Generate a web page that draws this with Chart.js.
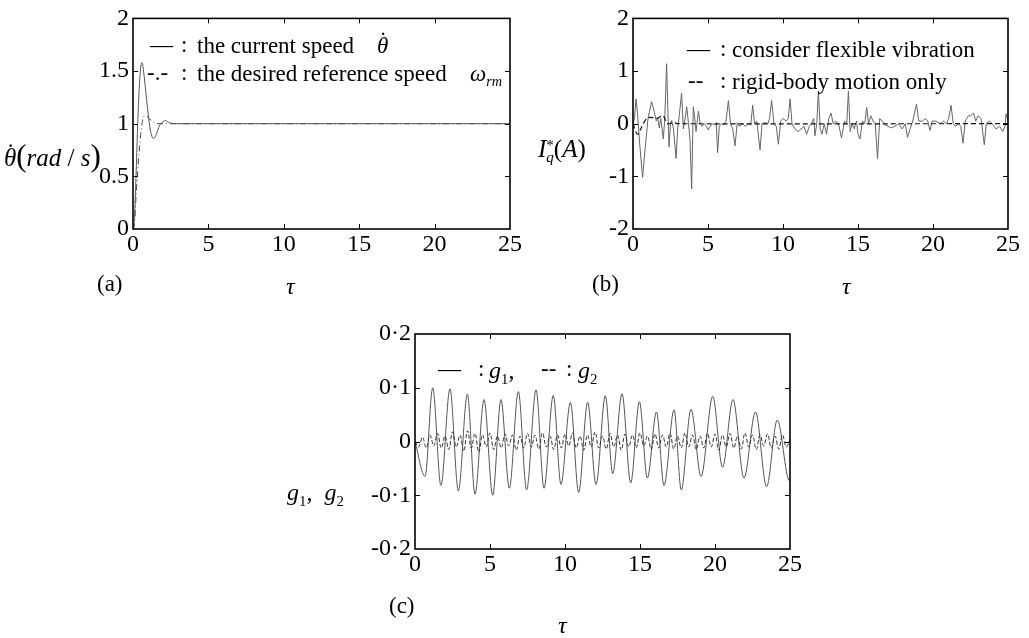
<!DOCTYPE html>
<html><head><meta charset="utf-8">
<script src="https://cdn.jsdelivr.net/npm/chart.js@4.4.0/dist/chart.umd.min.js"></script>
<style>
html,body{margin:0;padding:0;background:#fff;width:1029px;height:638px;overflow:hidden;}
canvas{position:absolute;left:0;top:0;}
.t{position:absolute;font-family:'Liberation Serif','Times New Roman',serif;color:#000;white-space:nowrap;line-height:1;transform:translateY(-50%);}
.i{font-style:italic;}
sub,sup{font-size:62%;line-height:0;}
.dt{position:relative;display:inline-block;font-style:italic;}
.dt .d{position:absolute;left:0.1em;top:-0.22em;font-style:normal;}
</style></head><body>
<canvas id="ca" width="1029" height="638"></canvas>
<canvas id="cb" width="1029" height="638"></canvas>
<canvas id="cc" width="1029" height="638"></canvas>

<!-- panel (a) texts -->
<div class="t" style="left:4px;top:155px;font-size:25px;"><span class="dt">θ<span class="d">˙</span></span><span style="font-size:31px">(</span><span class="i">rad</span> / <span class="i">s</span><span style="font-size:31px">)</span></div>
<div class="t" style="left:97px;top:283px;font-size:23px;">(a)</div>
<div class="t i" style="left:286px;top:286px;font-size:24px;">τ</div>
<div class="t" style="left:150px;top:44px;font-size:23px;">—</div>
<div class="t" style="left:181px;top:44px;font-size:23px;">:</div>
<div class="t" style="left:197px;top:45px;font-size:23px;">the current speed</div>
<div class="t" style="left:377px;top:45px;font-size:23px;"><span class="dt">θ<span class="d">˙</span></span></div>
<div class="t" style="left:147px;top:72px;font-size:23px;">-.-</div>
<div class="t" style="left:181px;top:72px;font-size:23px;">:</div>
<div class="t" style="left:197px;top:73px;font-size:23px;">the desired reference speed</div>
<div class="t i" style="left:470px;top:73px;font-size:23px;">ω<sub>rm</sub></div>

<!-- panel (b) texts -->
<div class="t" style="left:538px;top:150px;font-size:25px;"><span class="i">I</span><span style="display:inline-block;vertical-align:middle;line-height:0.8;font-size:15px;text-align:left;"><span style="display:block;">*</span><span class="i" style="display:block;">q</span></span>(<span class="i">A</span>)</div>
<div class="t" style="left:592px;top:283px;font-size:23px;">(b)</div>
<div class="t i" style="left:842px;top:286px;font-size:24px;">τ</div>
<div class="t" style="left:687px;top:48px;font-size:23px;">—</div>
<div class="t" style="left:720px;top:48px;font-size:23px;">:</div>
<div class="t" style="left:732px;top:49px;font-size:23px;">consider flexible vibration</div>
<div class="t" style="left:688px;top:80px;font-size:23px;">--</div>
<div class="t" style="left:720px;top:80px;font-size:23px;">:</div>
<div class="t" style="left:732px;top:81px;font-size:23px;">rigid-body motion only</div>

<!-- panel (c) texts -->
<div class="t" style="left:287px;top:492px;font-size:24px;"><span class="i">g</span><sub>1</sub>,&nbsp;&nbsp;<span class="i">g</span><sub>2</sub></div>
<div class="t" style="left:389px;top:605px;font-size:23px;">(c)</div>
<div class="t i" style="left:558px;top:625px;font-size:24px;">τ</div>
<div class="t" style="left:438px;top:368px;font-size:23px;">—</div>
<div class="t" style="left:478px;top:368px;font-size:23px;">:</div>
<div class="t" style="left:489px;top:370px;font-size:24px;"><span class="i">g</span><sub>1</sub>,</div>
<div class="t" style="left:541px;top:368px;font-size:23px;">--</div>
<div class="t" style="left:566px;top:368px;font-size:23px;">:</div>
<div class="t" style="left:578px;top:370px;font-size:24px;"><span class="i">g</span><sub>2</sub></div>

<script>
// ---------- data ----------
const xTicks = [0, 5, 10, 15, 20, 25];
const xTickLabels = ['0', '5', '10', '15', '20', '25'];

// panel (a)
const yTicksA = [0, 0.5, 1, 1.5, 2];
const yTickLabelsA = ['0', '0.5', '1', '1.5', '2'];
const tauCurrent = [0, 0.1, 0.2, 0.3, 0.4, 0.5, 0.6, 0.7, 0.85, 1.0, 1.15, 1.35, 1.55, 1.75, 2.0, 2.15, 2.4, 2.8, 3.5, 25];
const speedCurrent = [0, 0.12, 0.5, 0.95, 1.3, 1.52, 1.58, 1.5, 1.3, 1.1, 0.94, 0.86, 0.9, 0.98, 1.02, 1.03, 1.01, 1.0, 1.0, 1.0];
const tauReference = [0, 0.1, 0.2, 0.4, 0.6, 0.8, 1.0, 1.3, 1.6, 2.0, 25];
const speedReference = [0, 0.05, 0.3, 0.72, 1.0, 1.08, 1.06, 1.02, 1.0, 1.0, 1.0];

// panel (b)
const yTicksB = [-2, -1, 0, 1, 2];
const yTickLabelsB = ['-2', '-1', '0', '1', '2'];
const tauFlex = [0,0.1,0.2,0.3,0.45,0.64,0.8,1.0,1.24,1.4,1.55,1.65,1.75,1.85,2.02,2.12,2.24,2.32,2.4,2.5,2.58,2.7,2.87,2.98,3.1,3.24,3.36,3.48,3.58,3.7,3.8,3.91,4.02,4.12,4.2,4.36,4.48,4.6,4.75,4.9,5.02,5.15,5.3,5.45,5.55,5.64,5.75,5.9,6.05,6.2,6.36,6.5,6.65,6.8,6.95,7.1,7.3,7.5,7.7,7.85,7.98,8.1,8.25,8.47,8.6,8.8,9.0,9.1,9.24,9.4,9.55,9.69,9.85,10.0,10.2,10.35,10.47,10.6,10.8,11.0,11.2,11.4,11.58,11.75,11.9,12.05,12.13,12.25,12.36,12.48,12.6,12.75,12.9,13.05,13.2,13.35,13.5,13.7,13.9,14.1,14.25,14.36,14.48,14.6,14.75,14.9,15.0,15.13,15.3,15.45,15.58,15.7,15.85,16.0,16.15,16.3,16.45,16.6,16.8,17.0,17.2,17.45,17.7,17.95,18.15,18.3,18.47,18.65,18.9,19.05,19.3,19.5,19.65,19.8,19.95,20.2,20.5,20.7,20.9,21.05,21.2,21.35,21.5,21.7,21.85,22.0,22.15,22.35,22.5,22.7,22.85,23.0,23.2,23.42,23.55,23.75,23.95,24.2,24.45,24.65,24.8,24.87,25.0];
const iqFlex = [0,0.1,0.47,0.2,-0.4,-1.02,-0.5,0.1,0.42,0.25,0.05,0.12,-0.08,0.1,-0.29,0.1,1.14,0.3,-0.44,0.0,0.06,-0.1,-0.66,-0.1,0.2,0.58,-0.1,0.1,0.32,0.0,-0.3,-1.24,0.32,0.1,-0.15,0.24,0.0,-0.05,0.0,-0.05,-0.12,-0.05,0.0,-0.02,0.02,-0.55,-0.05,0.0,-0.02,0.05,0.44,0.0,-0.1,-0.42,0.02,-0.05,0.0,-0.05,0.0,-0.02,0.35,0.0,0.05,-0.5,0.0,0.02,0.0,0.1,0.44,0.0,-0.05,-0.39,0.05,0.1,0.05,0.1,0.47,0.0,-0.1,-0.15,-0.1,-0.05,-0.2,-0.05,0.0,0.1,-0.23,0.0,0.62,-0.1,-0.2,0.0,-0.2,0.1,0.2,0.0,0.05,0.0,-0.27,0.05,0.0,0.62,-0.15,0.0,-0.1,0.05,-0.2,-0.29,0.05,0.0,0.31,0.0,0.15,0.05,0.0,-0.67,0.1,0.05,-0.02,-0.05,-0.08,-0.05,0.0,-0.1,0.0,-0.26,-0.1,0.05,0.37,0.05,0.05,0.1,0.05,-0.13,0.05,0.05,0.0,0.05,0.0,0.1,0.35,0.0,-0.05,0.0,-0.05,-0.37,0.05,0.15,0.15,0.2,0.05,0.15,0.1,-0.4,0.0,0.05,0.0,-0.1,-0.05,-0.15,-0.05,0.19,0.05];
const tauRigid = [0, 0.3, 0.6, 0.9, 1.2, 1.6, 2.0, 2.3, 2.7, 3.0, 25];
const iqRigid = [0, -0.2, -0.05, 0.1, 0.12, 0.1, 0.15, 0.0, 0.02, 0.0, 0.0];

// panel (c)
const yTicksC = [-0.2, -0.1, 0, 0.1, 0.2];
const yTickLabelsC = ['-0·2', '-0·1', '0', '0·1', '0·2'];
const tauG1 = [0,0.67,1.18,1.73,2.33,2.89,3.49,4.0,4.6,5.18,5.73,6.29,6.89,7.44,8.07,8.6,9.22,9.73,10.36,10.91,11.51,12.07,12.69,13.18,13.8,14.38,14.96,15.49,16.1,16.6,17.27,17.75,18.4,19.07,19.85,20.5,21.2,21.93,22.7,23.44,24.15,24.96,25];
const g1 = [0,-0.065,0.1,-0.082,0.098,-0.092,0.088,-0.098,0.078,-0.1,0.078,-0.087,0.093,-0.09,0.096,-0.087,0.086,-0.08,0.073,-0.095,0.073,-0.08,0.085,-0.06,0.089,-0.077,0.074,-0.068,0.055,-0.082,0.059,-0.09,0.06,-0.065,0.084,-0.048,0.078,-0.068,0.055,-0.084,0.04,-0.073,-0.07];
const g2 = [0,-0.01,0.008,-0.012,0.012,-0.008,0.015,-0.012,0.01,-0.015,0.018,-0.01,0.012,-0.018,0.02,-0.012,0.015,-0.02,0.012,-0.01,0.016,-0.015,0.01,-0.012,0.014,-0.008,0.012,-0.016,0.01,-0.012,0.015,-0.01,0.012,-0.014,0.016,-0.01,0.01,-0.015,0.012,-0.012,0.014,-0.008,0.016,-0.012,0.01,-0.016,0.012,-0.01,0.018,-0.012,0.01,-0.014,0.015,-0.01,0.012,-0.016,0.014,-0.01,0.012,-0.012,0.016,-0.008,0.01,-0.015,0.014,-0.012,0.012,-0.01,0.015,-0.014,0.01,-0.012,0.016,-0.01,0.012,-0.015,0.01,-0.012,0.015,-0.01,0.014,-0.016,0.012,-0.01,0.015,-0.012,0.01,-0.014,0.016,-0.01,0.012,-0.015,0.012,-0.008,0.014,-0.012,0.01,-0.014,0.012,-0.01,0.004];
const G2_END = 25;

// ---------- drawing ----------
const W = 1029, H = 638;
const FONT = "'Liberation Serif','Times New Roman',serif";
const TICK_SIZE = 24;

function pts(xs, ys) { return ys.map((v, i) => ({ x: xs[i], y: v })); }

const framePlugin = {
  id: 'frame',
  afterDatasetsDraw(chart) {
    const { ctx, chartArea: a, scales: { x, y } } = chart;
    ctx.save();
    ctx.strokeStyle = '#000';
    ctx.lineWidth = 1;
    const L = 5;
    ctx.beginPath();
    x.ticks.forEach(t => {
      const px = Math.round(x.getPixelForValue(t.value)) + 0.5;
      if (px <= a.left + 2 || px >= a.right - 2) return;
      ctx.moveTo(px, a.bottom); ctx.lineTo(px, a.bottom - L);
      ctx.moveTo(px, a.top); ctx.lineTo(px, a.top + L);
    });
    y.ticks.forEach(t => {
      const py = Math.round(y.getPixelForValue(t.value)) + 0.5;
      if (py <= a.top + 2 || py >= a.bottom - 2) return;
      ctx.moveTo(a.left, py); ctx.lineTo(a.left + L, py);
      ctx.moveTo(a.right, py); ctx.lineTo(a.right - L, py);
    });
    ctx.stroke();
    ctx.lineWidth = 1.6;
    ctx.strokeRect(a.left, a.top, a.right - a.left, a.bottom - a.top);
    ctx.restore();
  }
};

function makeChart(id, area, yT, yL, datasets) {
  const YW = 60, XH = 40;
  return new Chart(document.getElementById(id), {
    type: 'line',
    data: { datasets },
    options: {
      responsive: false, animation: false, events: [],
      layout: { padding: { left: area.l - YW, top: area.t, right: W - area.r, bottom: H - area.b - XH } },
      plugins: { legend: { display: false }, tooltip: { enabled: false } },
      elements: { point: { radius: 0 } },
      scales: {
        x: {
          type: 'linear', min: 0, max: 25,
          grid: { display: false, drawTicks: false }, border: { display: false },
          afterFit(s) { s.height = XH; },
          afterBuildTicks(s) { s.ticks = xTicks.map(v => ({ value: v })); },
          ticks: { font: { family: FONT, size: TICK_SIZE }, color: '#000', padding: 1, maxRotation: 0, autoSkip: false,
            callback: (v, i) => xTickLabels[i] }
        },
        y: {
          type: 'linear', min: yT[0], max: yT[yT.length - 1],
          grid: { display: false, drawTicks: false }, border: { display: false },
          afterFit(s) { s.width = YW; },
          afterBuildTicks(s) { s.ticks = yT.map(v => ({ value: v })); },
          ticks: { font: { family: FONT, size: TICK_SIZE }, color: '#000', padding: 4, autoSkip: false,
            callback: (v, i) => yL[i] }
        }
      }
    },
    plugins: [framePlugin]
  });
}

makeChart('ca', { l: 133, t: 16, r: 510, b: 229 }, yTicksA, yTickLabelsA, [
  { data: pts(tauCurrent, speedCurrent), borderColor: '#555', borderWidth: 1, cubicInterpolationMode: 'monotone', fill: false },
  { data: pts(tauReference, speedReference), borderColor: '#444', borderWidth: 1, borderDash: [6, 3, 1, 3], cubicInterpolationMode: 'monotone', fill: false }
]);

makeChart('cb', { l: 633, t: 18, r: 1008, b: 229 }, yTicksB, yTickLabelsB, [
  { data: pts(tauRigid, iqRigid), borderColor: '#111', borderWidth: 1.2, borderDash: [5, 3], tension: 0.3, fill: false },
  { data: pts(tauFlex, iqFlex), borderColor: '#666', borderWidth: 1, tension: 0, fill: false }
]);

const tauG2 = g2.map((_, i) => i * G2_END / (g2.length - 1));
makeChart('cc', { l: 415, t: 334, r: 790, b: 549 }, yTicksC, yTickLabelsC, [
  { data: pts(tauG2, g2), borderColor: '#333', borderWidth: 1, borderDash: [4, 2], tension: 0.4, fill: false },
  { data: pts(tauG1, g1), borderColor: '#555', borderWidth: 1, cubicInterpolationMode: 'monotone', fill: false }
]);
</script>
</body></html>
